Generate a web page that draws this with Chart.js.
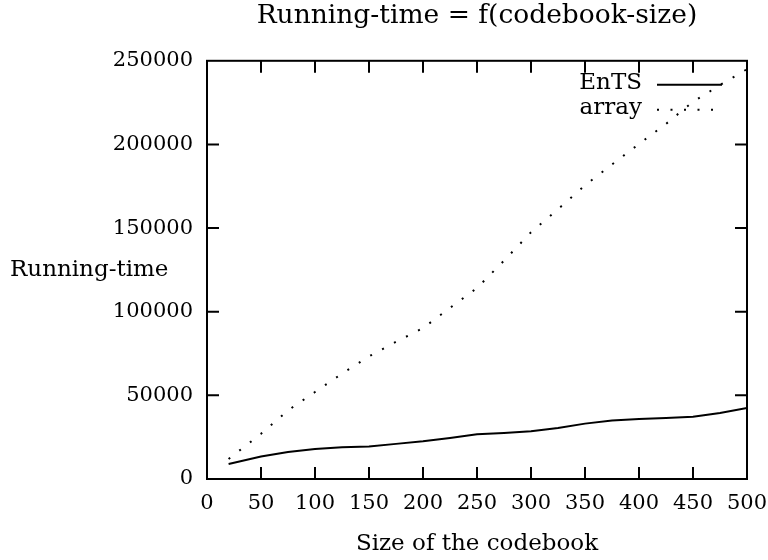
<!DOCTYPE html>
<html>
<head>
<meta charset="utf-8">
<script src="https://cdn.jsdelivr.net/npm/chart.js@4/dist/chart.umd.min.js"></script>
<style>
  body { margin: 0; background: #fff; }
  canvas { display: block; }
</style>
</head>
<body>
<canvas id="chart" width="768" height="560"></canvas>
<script>
// codebook sizes (x) and measured running times
const sizes = [20, 50, 75, 100, 125, 150, 175, 200, 225, 250, 275, 300, 325, 350, 375, 400, 425, 450, 475, 500];
const entsTimes = [9000, 13500, 16100, 17900, 19000, 19500, 21000, 22500, 24500, 26700, 27500, 28500, 30500, 33100, 35000, 35900, 36500, 37200, 39500, 42400];
const arrayTimes = [12000, 27000, 41000, 52000, 63000, 73300, 82000, 90200, 102300, 114200, 130500, 147500, 161300, 175600, 188000, 200300, 212300, 225500, 235500, 245000];

const seriesNames = ["EnTS", "array"];
const chartTitle = "Running-time = f(codebook-size)";
const xTitle = "Size of the codebook";
const yTitle = "Running-time";

const FONT = "DejaVu Serif";
Chart.defaults.font.family = FONT;
Chart.defaults.font.size = 21;
Chart.defaults.color = "#000";

function toPoints(xs, ys) {
  return xs.map((x, i) => ({ x: x, y: ys[i] }));
}

// gnuplot style frame: border, inward ticks on all four sides, horizontal y title, key
const gnuplotFrame = {
  id: "gnuplotFrame",
  afterDatasetsDraw(chart) {
    const ctx = chart.ctx;
    const area = chart.chartArea;
    const xs = chart.scales.x;
    const ys = chart.scales.y;
    const tick = 12;

    ctx.save();
    ctx.strokeStyle = "#000";
    ctx.lineWidth = 2;
    ctx.setLineDash([]);
    ctx.strokeRect(area.left, area.top, area.right - area.left, area.bottom - area.top);

    ctx.beginPath();
    xs.ticks.forEach((t) => {
      const px = xs.getPixelForValue(t.value);
      if (px <= area.left + 1 || px >= area.right - 1) return;
      ctx.moveTo(px, area.bottom);
      ctx.lineTo(px, area.bottom - tick);
      ctx.moveTo(px, area.top);
      ctx.lineTo(px, area.top + tick);
    });
    ys.ticks.forEach((t) => {
      const py = ys.getPixelForValue(t.value);
      if (py <= area.top + 1 || py >= area.bottom - 1) return;
      ctx.moveTo(area.left, py);
      ctx.lineTo(area.left + tick, py);
      ctx.moveTo(area.right, py);
      ctx.lineTo(area.right - tick, py);
    });
    ctx.stroke();

    // y axis title, horizontal
    ctx.fillStyle = "#000";
    ctx.font = "23px '" + FONT + "'";
    ctx.textAlign = "left";
    ctx.textBaseline = "middle";
    ctx.fillText(yTitle, 10, (area.top + area.bottom) / 2);

    // key in the top right corner
    const textRight = area.right - 105;
    const sampleLeft = area.right - 90;
    const sampleRight = area.right - 25;
    chart.data.datasets.forEach((ds, i) => {
      const y = area.top + 22 + i * 25;
      ctx.textAlign = "right";
      ctx.fillText(ds.label, textRight, y);
      ctx.beginPath();
      ctx.lineWidth = ds.borderWidth;
      ctx.lineCap = "butt";
      ctx.setLineDash(ds.borderDash || []);
      ctx.moveTo(sampleLeft, y + 2);
      ctx.lineTo(sampleRight, y + 2);
      ctx.stroke();
    });
    ctx.restore();
  }
};

new Chart(document.getElementById("chart"), {
  type: "line",
  data: {
    datasets: [
      {
        label: seriesNames[0],
        data: toPoints(sizes, entsTimes),
        borderColor: "#000",
        borderWidth: 2,
        pointRadius: 0,
        tension: 0
      },
      {
        label: seriesNames[1],
        data: toPoints(sizes, arrayTimes),
        borderColor: "#000",
        borderWidth: 2,
        borderDash: [2, 11.5],
        borderCapStyle: "butt",
        pointRadius: 0,
        tension: 0
      }
    ]
  },
  options: {
    responsive: false,
    animation: false,
    layout: { padding: { left: 0, right: 0, top: 0, bottom: 0 } },
    plugins: {
      legend: { display: false },
      tooltip: { enabled: false },
      title: {
        display: true,
        text: chartTitle,
        fullSize: false,
        font: { size: 26.5, weight: "normal" },
        padding: { top: 0, bottom: 29 }
      }
    },
    scales: {
      x: {
        type: "linear",
        min: 0,
        max: 500,
        grid: { display: false, drawTicks: false },
        border: { display: false },
        ticks: { stepSize: 50, padding: 12, maxRotation: 0, autoSkip: false },
        title: { display: true, text: xTitle, font: { size: 23 }, padding: { top: 0, bottom: 2 } },
        afterFit(scale) {
          scale.height = 81;
          scale.paddingLeft = 0;
          scale.paddingRight = 21;
        }
      },
      y: {
        type: "linear",
        min: 0,
        max: 250000,
        grid: { display: false, drawTicks: false },
        border: { display: false },
        ticks: { stepSize: 50000, padding: 14, callback: (v) => String(v) },
        afterFit(scale) { scale.width = 207; }
      }
    }
  },
  plugins: [gnuplotFrame]
});
</script>
</body>
</html>
